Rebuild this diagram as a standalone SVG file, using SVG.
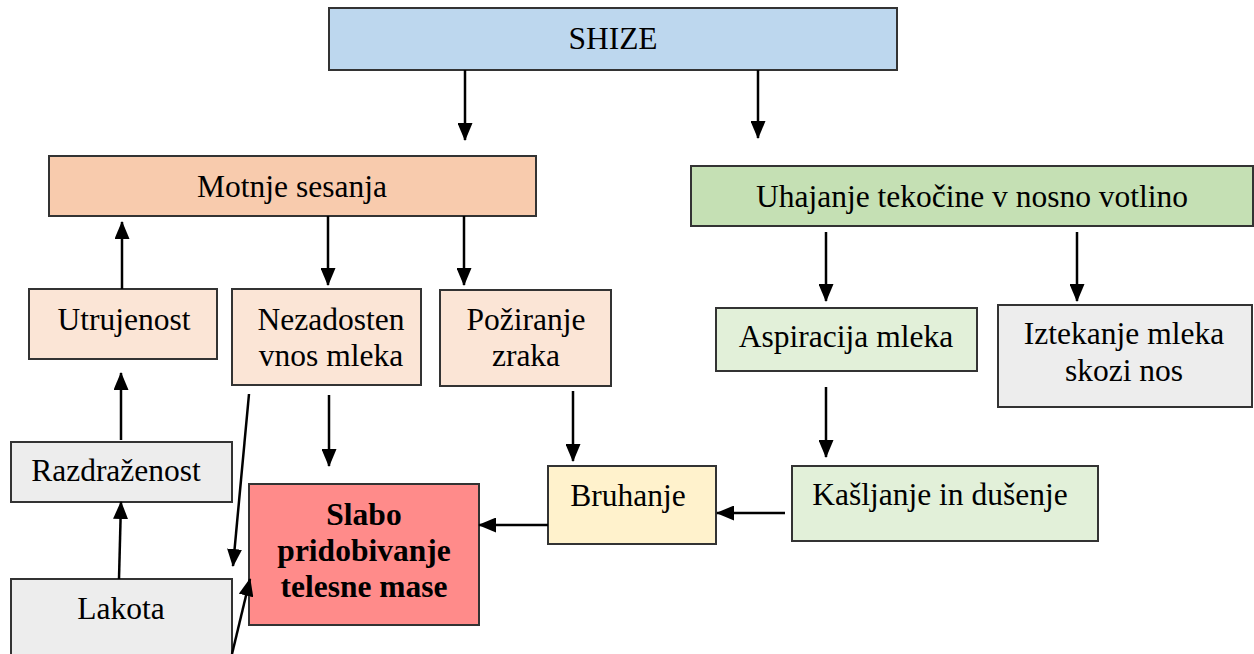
<svg xmlns="http://www.w3.org/2000/svg" width="1254" height="654" viewBox="0 0 1254 654">
<defs>
<style>
.box{stroke:#333333;stroke-width:2}
.t{font-family:"Liberation Serif","Times New Roman",serif;font-size:31.5px;fill:#000;text-anchor:middle}
.b{font-weight:bold}
.c{stroke:#000;stroke-width:2.5;fill:none;marker-end:url(#ah)}
</style>
<marker id="ah" markerUnits="userSpaceOnUse" markerWidth="18" markerHeight="15" refX="17" refY="7.5" orient="auto" viewBox="0 0 18 15">
<path d="M0,0 L18,7.5 L0,15 Z" fill="#000"/>
</marker>
</defs>
<rect width="1254" height="654" fill="#fff"/>
<g id="n-shize"><rect class="box" x="329" y="8" width="568" height="62" fill="#BDD7EE"/><text class="t" x="613" y="49">SHIZE</text></g>
<g id="n-motnje"><rect class="box" x="49" y="156" width="487" height="60" fill="#F8CBAD"/><text class="t" x="292" y="197">Motnje sesanja</text></g>
<g id="n-uhajanje"><rect class="box" x="691" y="166" width="562" height="60" fill="#C5E0B4"/><text class="t" x="972" y="207">Uhajanje tekočine v nosno votlino</text></g>
<g id="n-utrujenost"><rect class="box" x="29" y="289" width="188" height="70" fill="#FBE5D6"/><text class="t" x="124" y="330">Utrujenost</text></g>
<g id="n-nezadosten"><rect class="box" x="232" y="289" width="189" height="96" fill="#FBE5D6"/><text class="t" x="331" y="330">Nezadosten</text><text class="t" x="331" y="366">vnos mleka</text></g>
<g id="n-poziranje"><rect class="box" x="440" y="290" width="171" height="96" fill="#FBE5D6"/><text class="t" x="526" y="330">Požiranje</text><text class="t" x="526" y="366">zraka</text></g>
<g id="n-aspiracija"><rect class="box" x="716" y="308" width="261" height="63" fill="#E2F0D9"/><text class="t" x="846" y="347">Aspiracija mleka</text></g>
<g id="n-iztekanje"><rect class="box" x="998" y="305" width="254" height="102" fill="#EDEDED"/><text class="t" x="1124" y="344">Iztekanje mleka</text><text class="t" x="1124" y="381">skozi nos</text></g>
<g id="n-razdrazenost"><rect class="box" x="11" y="442" width="221" height="60" fill="#EDEDED"/><text class="t" x="116" y="481">Razdraženost</text></g>
<g id="n-bruhanje"><rect class="box" x="548" y="466" width="168" height="78" fill="#FFF2CC"/><text class="t" x="628" y="506">Bruhanje</text></g>
<g id="n-kasljanje"><rect class="box" x="792" y="466" width="306" height="75" fill="#E2F0D9"/><text class="t" x="940" y="505">Kašljanje in dušenje</text></g>
<g id="n-slabo"><rect class="box" x="249" y="484" width="230" height="141" fill="#FF8B8A"/><text class="t b" x="364" y="525">Slabo</text><text class="t b" x="364" y="561">pridobivanje</text><text class="t b" x="364" y="597">telesne mase</text></g>
<g id="n-lakota"><rect class="box" x="11" y="579" width="221" height="90" fill="#EDEDED"/><text class="t" x="121" y="619">Lakota</text></g>
<g id="connectors">
<line class="c" x1="465" y1="70" x2="465" y2="140"/>
<line class="c" x1="758" y1="70" x2="758" y2="138"/>
<line class="c" x1="328" y1="216" x2="328" y2="285"/>
<line class="c" x1="464" y1="216" x2="464" y2="285"/>
<line class="c" x1="122" y1="289" x2="122" y2="222"/>
<line class="c" x1="121" y1="440" x2="121" y2="373"/>
<line class="c" x1="119" y1="579" x2="121" y2="502"/>
<line class="c" x1="249" y1="394" x2="233" y2="566"/>
<line class="c" x1="232" y1="654" x2="250" y2="579"/>
<line class="c" x1="329" y1="395" x2="329" y2="466"/>
<line class="c" x1="573" y1="391" x2="573" y2="461"/>
<line class="c" x1="785" y1="513" x2="717" y2="513"/>
<line class="c" x1="548" y1="525" x2="479" y2="525"/>
<line class="c" x1="826" y1="232" x2="826" y2="301"/>
<line class="c" x1="1077" y1="232" x2="1077" y2="301"/>
<line class="c" x1="826" y1="387" x2="826" y2="457"/>
</g>
</svg>
